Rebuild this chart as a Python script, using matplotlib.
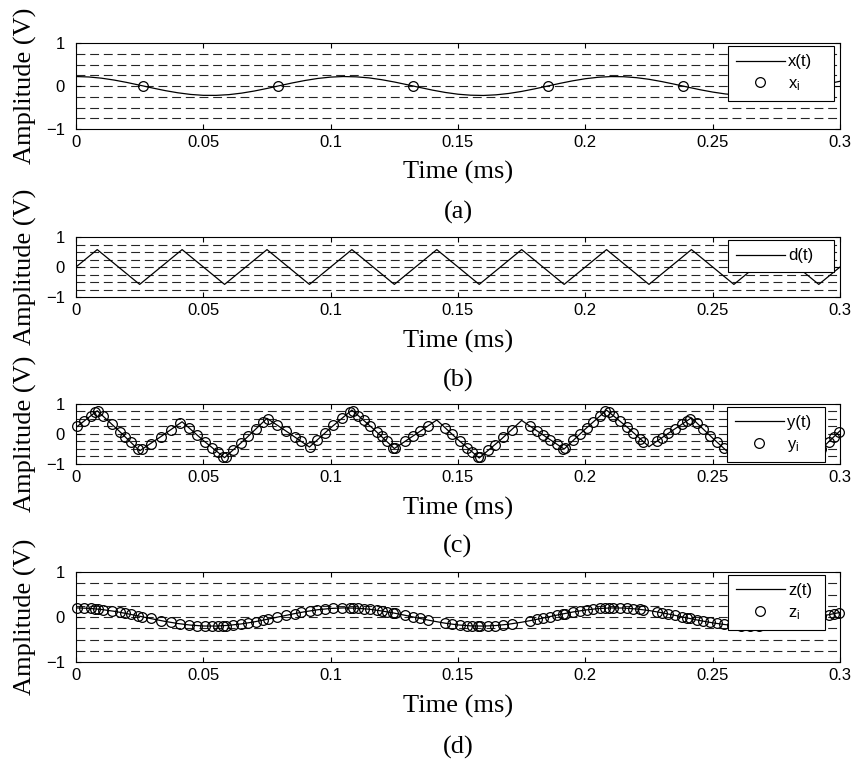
import matplotlib
matplotlib.use("Agg")
import matplotlib.pyplot as plt
from matplotlib.lines import Line2D
import numpy as np

plt.rcParams["font.family"] = ["Liberation Sans", "DejaVu Sans"]
plt.rcParams["mathtext.fontset"] = "custom"
plt.rcParams["mathtext.rm"] = "Liberation Sans"
plt.rcParams["mathtext.it"] = "Liberation Sans"

# =========================
# Data (time in ms, amplitude in V)
# =========================
LEVELS = [-0.75, -0.5, -0.25, 0.0, 0.25, 0.5, 0.75]   # quantisation levels
X_TICKS = [0, 0.05, 0.1, 0.15, 0.2, 0.25, 0.3]
X_TICKLABELS = ["0", "0.05", "0.1", "0.15", "0.2", "0.25", "0.3"]
Y_TICKS = [-1, 0, 1]

# (a) input signal x(t), on a 0.005 ms grid
t_fine = np.linspace(0, 0.3, 61)
x_vals = [0.220, 0.210, 0.182, 0.138, 0.082, 0.019, -0.046, -0.107, -0.158, -0.196,
          -0.217, -0.218, -0.201, -0.166, -0.117, -0.057, 0.008, 0.072, 0.129, 0.176,
          0.207, 0.220, 0.213, 0.189, 0.147, 0.093, 0.031, -0.034, -0.096, -0.150,
          -0.191, -0.214, -0.220, -0.205, -0.173, -0.126, -0.068, -0.004, 0.061, 0.120,
          0.169, 0.203, 0.219, 0.216, 0.194, 0.156, 0.103, 0.042, -0.023, -0.086,
          -0.141, -0.185, -0.211, -0.220, -0.209, -0.180, -0.135, -0.079, -0.015, 0.049,
          0.110]
xi_t = [0.0265, 0.0795, 0.1325, 0.1855, 0.2385, 0.2915]
xi_vals = [0.0, 0.0, 0.0, 0.0, 0.0, 0.0]

# (b) triangular dither d(t) and (c) dithered signal y(t), on a 1/120 ms grid
t_tri = np.linspace(0, 0.3, 37)
d_vals = [0.0, 0.58, 0.0, -0.58, 0.0, 0.58, 0.0, -0.58, 0.0, 0.58,
          0.0, -0.58, 0.0, 0.58, 0.0, -0.58, 0.0, 0.58, 0.0, -0.58,
          0.0, 0.58, 0.0, -0.58, 0.0, 0.58, 0.0, -0.58, 0.0, 0.58,
          0.0, -0.58, 0.0, 0.58, 0.0, -0.58, 0.0]
y_vals = [0.220, 0.774, 0.121, -0.560, -0.087, 0.408, -0.217, -0.789, -0.152, 0.522,
          0.049, -0.435, 0.206, 0.798, 0.178, -0.485, -0.011, 0.466, -0.189, -0.800,
          -0.198, 0.452, -0.028, -0.502, 0.167, 0.795, 0.212, -0.422, 0.067, 0.539,
          -0.138, -0.783, -0.219, 0.397, -0.103, -0.578, 0.106]

# (d) filtered signal z(t), same grid as x(t)
z_vals = [0.202, 0.193, 0.167, 0.127, 0.075, 0.017, -0.042, -0.098, -0.145, -0.180,
          -0.200, -0.201, -0.185, -0.153, -0.108, -0.052, 0.007, 0.066, 0.119, 0.162,
          0.190, 0.202, 0.196, 0.174, 0.135, 0.086, 0.029, -0.031, -0.088, -0.138,
          -0.176, -0.197, -0.202, -0.189, -0.159, -0.116, -0.063, -0.004, 0.056, 0.110,
          0.155, 0.187, 0.201, 0.199, 0.178, 0.144, 0.095, 0.039, -0.021, -0.079,
          -0.130, -0.170, -0.194, -0.202, -0.192, -0.166, -0.124, -0.073, -0.014, 0.045,
          0.101]

# sample instants used for y_i and z_i
s_t = [0.0005, 0.0030, 0.0058, 0.0075, 0.0085, 0.0107, 0.0140, 0.0172, 0.0192, 0.0215,
       0.0242, 0.0258, 0.0293, 0.0333, 0.0372, 0.0410, 0.0445, 0.0475, 0.0507, 0.0535,
       0.0556, 0.0578, 0.0588, 0.0618, 0.0648, 0.0677, 0.0705, 0.0735, 0.0755, 0.0790,
       0.0825, 0.0858, 0.0885, 0.0918, 0.0948, 0.0978, 0.1011, 0.1044, 0.1076, 0.1087,
       0.1109, 0.1129, 0.1155, 0.1181, 0.1200, 0.1220, 0.1246, 0.1253, 0.1292, 0.1325,
       0.1351, 0.1384, 0.1449, 0.1475, 0.1508, 0.1535, 0.1554, 0.1580, 0.1587, 0.1619,
       0.1646, 0.1678, 0.1711, 0.1783, 0.1809, 0.1835, 0.1862, 0.1888, 0.1914, 0.1921,
       0.1953, 0.1980, 0.2006, 0.2032, 0.2058, 0.2078, 0.2091, 0.2110, 0.2137, 0.2163,
       0.2189, 0.2215, 0.2228, 0.2281, 0.2300, 0.2326, 0.2353, 0.2379, 0.2398, 0.2412,
       0.2438, 0.2464, 0.2491, 0.2517, 0.2543, 0.2575, 0.2610, 0.2645, 0.2680, 0.2715,
       0.2750, 0.2785, 0.2820, 0.2855, 0.2890, 0.2925, 0.2956, 0.2976, 0.2996]
yi_vals = [0.255, 0.425, 0.611, 0.721, 0.761, 0.592, 0.334, 0.078, -0.085, -0.273,
           -0.495, -0.516, -0.317, -0.089, 0.139, 0.366, 0.190, -0.034, -0.266, -0.463,
           -0.607, -0.754, -0.755, -0.530, -0.298, -0.070, 0.155, 0.399, 0.493, 0.295,
           0.097, -0.092, -0.248, -0.424, -0.189, 0.041, 0.288, 0.525, 0.748, 0.771,
           0.612, 0.464, 0.267, 0.066, -0.083, -0.243, -0.453, -0.468, -0.245, -0.058,
           0.089, 0.277, 0.207, 0.003, -0.249, -0.451, -0.591, -0.777, -0.774, -0.549,
           -0.352, -0.112, 0.143, 0.259, 0.110, -0.038, -0.191, -0.337, -0.486, -0.466,
           -0.206, 0.009, 0.214, 0.414, 0.609, 0.756, 0.743, 0.614, 0.425, 0.238,
           0.046, -0.151, -0.251, -0.237, -0.126, 0.025, 0.179, 0.326, 0.433, 0.512,
           0.364, 0.152, -0.066, -0.273, -0.476, -0.721, -0.608, -0.371, -0.124, 0.132,
           0.397, 0.183, -0.025, -0.228, -0.427, -0.509, -0.253, -0.090, 0.073]
zi_vals = [0.202, 0.199, 0.190, 0.183, 0.177, 0.163, 0.137, 0.106, 0.085, 0.059,
           0.028, 0.008, -0.033, -0.079, -0.120, -0.153, -0.177, -0.192, -0.201, -0.202,
           -0.200, -0.194, -0.191, -0.175, -0.155, -0.130, -0.103, -0.071, -0.048, -0.006,
           0.036, 0.074, 0.103, 0.135, 0.159, 0.179, 0.194, 0.202, 0.202, 0.200,
           0.194, 0.186, 0.171, 0.152, 0.137, 0.118, 0.091, 0.084, 0.039, 0.000,
           -0.031, -0.069, -0.136, -0.157, -0.179, -0.192, -0.198, -0.202, -0.202, -0.199,
           -0.191, -0.175, -0.152, -0.084, -0.054, -0.024, 0.008, 0.039, 0.069, 0.077,
           0.111, 0.136, 0.158, 0.176, 0.189, 0.196, 0.199, 0.202, 0.201, 0.196,
           0.186, 0.171, 0.162, 0.117, 0.098, 0.070, 0.038, 0.007, -0.016, -0.032,
           -0.063, -0.091, -0.119, -0.143, -0.163, -0.183, -0.197, -0.202, -0.199, -0.188,
           -0.168, -0.141, -0.108, -0.071, -0.030, 0.012, 0.048, 0.071, 0.093]

FIG_W, FIG_H = 854, 759
AX_LEFT, AX_RIGHT = 76, 840
SERIF = "Liberation Serif"
MS = 7


def px_rect(top, bottom):
    return [AX_LEFT / FIG_W, 1 - bottom / FIG_H,
            (AX_RIGHT - AX_LEFT) / FIG_W, (bottom - top) / FIG_H]


def setup_axes(ax):
    for lv in LEVELS:
        ax.axhline(lv, color="0.15", lw=0.8, dashes=(8, 4.3), zorder=1)
    ax.set_xlim(0, 0.3)
    ax.set_ylim(-1, 1)
    ax.set_xticks(X_TICKS)
    ax.set_xticklabels(X_TICKLABELS)
    ax.set_yticks(Y_TICKS)
    ax.tick_params(direction="in", top=True, right=True, length=3.5, width=0.8,
                   labelsize=12)
    ax.tick_params(axis="x", pad=4)
    ax.tick_params(axis="y", pad=8)
    for sp in ax.spines.values():
        sp.set_linewidth(0.8)


def add_legend(ax, labels, marker, left_px, right_px, top_frac):
    handles = [Line2D([], [], color="k", lw=0.9)]
    if marker:
        handles.append(Line2D([], [], ls="none", marker="o", ms=MS, mfc="none",
                              mec="k", mew=0.9))
    x0 = (left_px - AX_LEFT) / (AX_RIGHT - AX_LEFT)
    w = (right_px - left_px) / (AX_RIGHT - AX_LEFT)
    leg = ax.legend(handles, labels, loc="upper left", mode="expand",
                    bbox_to_anchor=(x0, 0, w, top_frac), borderaxespad=0,
                    fontsize=12, handlelength=2.9, handletextpad=0.2,
                    borderpad=0.5, labelspacing=0.4, numpoints=1,
                    fancybox=False, framealpha=1, edgecolor="k")
    leg.get_frame().set_linewidth(0.8)
    leg.set_zorder(10)


def add_texts(fig, top, bottom, time_y, cap_y, caption):
    cx = (AX_LEFT + AX_RIGHT) / 2 / FIG_W
    fig.text(25 / FIG_W, 1 - (top + bottom) / 2 / FIG_H, "Amplitude (V)",
             rotation=90, ha="center", va="center", family=SERIF, size=19)
    fig.text(cx, 1 - time_y / FIG_H, "Time (ms)", ha="center", va="center",
             family=SERIF, size=19)
    fig.text(cx, 1 - cap_y / FIG_H, caption, ha="center", va="center",
             family=SERIF, size=19)


fig = plt.figure(figsize=(FIG_W / 100, FIG_H / 100), dpi=100)

# (a)
ax = fig.add_axes(px_rect(43, 129))
setup_axes(ax)
ax.plot(t_fine, x_vals, color="k", lw=0.9, zorder=2)
ax.plot(xi_t, xi_vals, ls="none", marker="o", ms=MS, mfc="none", mec="k",
        mew=0.9, zorder=3, clip_on=False)
add_legend(ax, ["x(t)", r"$\mathrm{x}_\mathrm{i}$"], True, 728, 834, 0.965)
add_texts(fig, 43, 129, 172, 212, "(a)")

# (b)
ax = fig.add_axes(px_rect(237, 297))
setup_axes(ax)
ax.plot(t_tri, d_vals, color="k", lw=0.9, zorder=2)
add_legend(ax, ["d(t)"], False, 728, 834, 0.95)
add_texts(fig, 237, 297, 341, 380, "(b)")

# (c)
ax = fig.add_axes(px_rect(404, 464))
setup_axes(ax)
ax.plot(t_tri, y_vals, color="k", lw=0.9, zorder=2)
ax.plot(s_t, yi_vals, ls="none", marker="o", ms=MS, mfc="none", mec="k",
        mew=0.9, zorder=3, clip_on=False)
add_legend(ax, ["y(t)", r"$\mathrm{y}_\mathrm{i}$"], True, 727, 825, 0.95)
add_texts(fig, 404, 464, 508, 546, "(c)")

# (d)
ax = fig.add_axes(px_rect(572, 662))
setup_axes(ax)
ax.plot(t_fine, z_vals, color="k", lw=0.9, zorder=2)
ax.plot(s_t, zi_vals, ls="none", marker="o", ms=MS, mfc="none", mec="k",
        mew=0.9, zorder=3, clip_on=False)
add_legend(ax, ["z(t)", r"$\mathrm{z}_\mathrm{i}$"], True, 728, 825, 0.967)
add_texts(fig, 572, 662, 706, 747, "(d)")

fig.savefig("out.png", dpi=100)
plt.close(fig)
